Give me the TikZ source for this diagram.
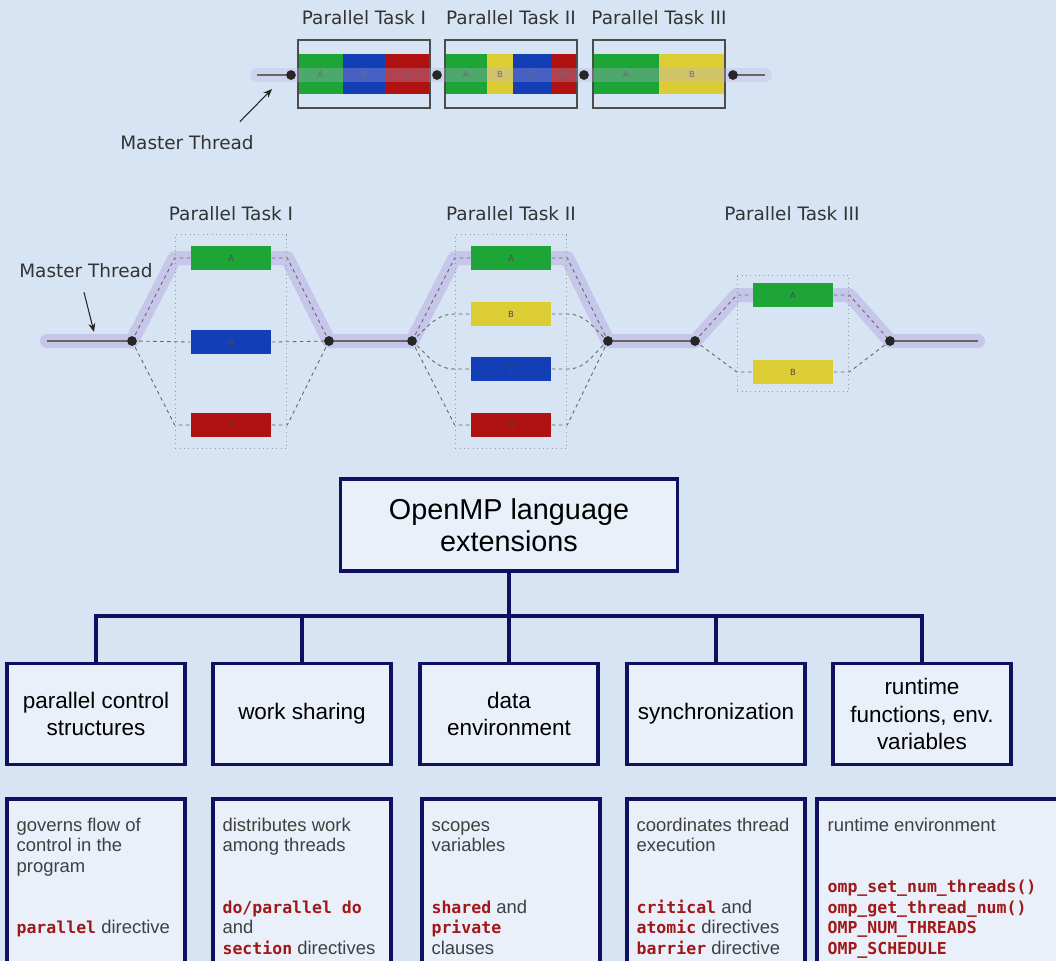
\documentclass[tikz,border=0pt]{standalone}
\usepackage{fontspec}
\setmainfont{Liberation Sans}
\setmonofont{DejaVu Sans Mono}
\newfontfamily\dejavu{DejaVu Sans}
\usepackage{xcolor}
\usepackage{tikz}
\usetikzlibrary{arrows.meta, positioning, fit, calc}
\definecolor{bgblue}{RGB}{214,228,244}
\definecolor{boxfill}{RGB}{233,240,250}
\definecolor{navyline}{RGB}{16,16,96}
\definecolor{taskgreen}{RGB}{30,165,55}
\definecolor{taskblue}{RGB}{20,62,182}
\definecolor{taskred}{RGB}{176,18,18}
\definecolor{taskyellow}{RGB}{220,205,52}
\definecolor{bandline}{RGB}{188,178,228}
\definecolor{descgray}{RGB}{64,64,64}
\definecolor{kwred}{RGB}{160,24,24}
\newcommand{\kw}[1]{\textcolor{kwred}{\fontsize{9.4}{11.7}\selectfont\ttfamily\bfseries #1}}
\pgfdeclarelayer{paper}
\pgfdeclarelayer{bandlayer}
\pgfsetlayers{paper,bandlayer,main}

\begin{document}
\begin{tikzpicture}[
  x=0.02cm, y=-0.02cm,
  tasklabel/.style={font=\dejavu\fontsize{10.5}{12}\selectfont, text=black!80},
  seg/.style={draw=none, minimum height=0.8cm, inner sep=0pt, outer sep=0pt,
              anchor=west, font=\dejavu\fontsize{4.8}{5}\selectfont,
              text=black!70},
  segframe/.style={draw=black!70, line width=0.6pt, inner xsep=0pt,
                   inner ysep=0.28cm},
  bar/.style={minimum width=1.62cm, minimum height=0.48cm, inner sep=0pt,
              font=\dejavu\fontsize{4.8}{5}\selectfont, text=black!70},
  fork/.style={circle, fill=black!85, inner sep=0pt, minimum size=0.19cm},
  band/.style={line width=0.28cm, draw=bandline, opacity=0.6,
               line cap=round, line join=round},
  core/.style={draw=black!60, line width=0.7pt},
  branch/.style={draw=black!60, dash pattern=on 2pt off 2pt, line width=0.5pt},
  groupbox/.style={draw=black!40, dotted, line width=0.5pt,
                   inner xsep=0.3cm, inner ysep=0.22cm},
  pointer/.style={-{Stealth[length=5pt, width=4pt]}, line width=0.6pt,
                  draw=black!85},
  rootbox/.style={draw=navyline, fill=boxfill, line width=2pt,
                  minimum width=6.74cm, minimum height=1.84cm, align=center,
                  font=\fontsize{16.4}{18.3}\selectfont},
  catbox/.style={draw=navyline, fill=boxfill, line width=2pt,
                 minimum width=3.56cm, minimum height=2.02cm, align=center,
                 inner sep=2pt, font=\fontsize{12.8}{15.4}\selectfont},
  descbox/.style={draw=navyline, fill=boxfill, line width=2pt,
                  minimum width=3.56cm, minimum height=3.6cm},
  desctext/.style={anchor=north west, inner sep=0pt, align=left,
                   text=descgray, font=\fontsize{10.5}{11.7}\selectfont},
  tree/.style={draw=navyline, line width=2pt},
]
\useasboundingbox (0,0) rectangle (1056,961);
\begin{pgfonlayer}{paper}
  \fill[bgblue] (0,0) rectangle (1056,961);
\end{pgfonlayer}
\clip (0,0) rectangle (1056,961);

% =================================================================
%  TOP STRIP -- SERIAL VIEW
% =================================================================
\node[tasklabel] (ttl1) at (364,18) {Parallel Task I};
\node[tasklabel] (ttl2) at (511,18) {Parallel Task II};
\node[tasklabel] (ttl3) at (659,18) {Parallel Task III};

\node[seg, fill=taskgreen, minimum width=0.90cm] (t1a) at (298,74) {A};
\node[seg, fill=taskblue, minimum width=0.84cm, right=0pt of t1a] (t1b) {B};
\node[seg, fill=taskred, minimum width=0.90cm, right=0pt of t1b] (t1c) {C};

\node[seg, fill=taskgreen, minimum width=0.84cm] (t2a) at (445,74) {A};
\node[seg, fill=taskyellow, minimum width=0.52cm, right=0pt of t2a] (t2b) {B};
\node[seg, fill=taskblue, minimum width=0.78cm, right=0pt of t2b] (t2c) {C};
\node[seg, fill=taskred, minimum width=0.50cm, right=0pt of t2c] (t2d) {D};

\node[seg, fill=taskgreen, minimum width=1.32cm] (t3a) at (593,74) {A};
\node[seg, fill=taskyellow, minimum width=1.32cm, right=0pt of t3a] (t3b) {B};

\node[segframe, fit=(t1a)(t1c)] (frame1) {};
\node[segframe, fit=(t2a)(t2d)] (frame2) {};
\node[segframe, fit=(t3a)(t3b)] (frame3) {};

\coordinate (tstart) at (257,75);
\coordinate (tend) at (765,75);
\node[fork] (s0) at (291,75) {};
\node[fork] (s1) at (437,75) {};
\node[fork] (s2) at (584,75) {};
\node[fork] (s3) at (733,75) {};
\draw[band, opacity=0.3] (tstart) -- (tend);
\draw[core] (tstart) -- (s0.center);
\draw[core] (s3.center) -- (tend);
\foreach \d in {s0,s1,s2,s3} \node[fork] at (\d) {};

\node[tasklabel] (mtop) at (187,143) {Master Thread};
\coordinate (mtip) at (272,89);
\draw[pointer] ($(mtop.north east)+(-20,-8)$) -- (mtip);

% =================================================================
%  MIDDLE -- FORK / JOIN VIEW
% =================================================================
\node[tasklabel] (mttl1) at (231,214) {Parallel Task I};
\node[tasklabel] (mttl2) at (511,214) {Parallel Task II};
\node[tasklabel] (mttl3) at (792,214) {Parallel Task III};

\node[bar, fill=taskgreen] (m1a) at (231,258) {A};
\node[bar, fill=taskblue] (m1b) at (231,342) {B};
\node[bar, fill=taskred] (m1c) at (231,425) {C};

\node[bar, fill=taskgreen] (m2a) at (511,258) {A};
\node[bar, fill=taskyellow] (m2b) at (511,314) {B};
\node[bar, fill=taskblue] (m2c) at (511,369) {C};
\node[bar, fill=taskred] (m2d) at (511,425) {D};

\node[bar, fill=taskgreen] (m3a) at (793,295) {A};
\node[bar, fill=taskyellow] (m3b) at (793,372) {B};

\node[groupbox, fit=(m1a)(m1c)] (g1) {};
\node[groupbox, fit=(m2a)(m2d)] (g2) {};
\node[groupbox, inner ysep=0.14cm, fit=(m3a)(m3b)] (g3) {};

\node[fork] (f1) at (132,341) {};
\node[fork] (j1) at (329,341) {};
\node[fork] (f2) at (412,341) {};
\node[fork] (j2) at (608,341) {};
\node[fork] (f3) at (695,341) {};
\node[fork] (j3) at (890,341) {};
\coordinate (mstart) at (47,341);
\coordinate (mend) at (978,341);

\begin{pgfonlayer}{bandlayer}
\draw[band] (mstart) -- (f1.center) -- (g1.west |- m1a) -- (g1.east |- m1a)
  -- (j1.center) -- (f2.center) -- (g2.west |- m2a) -- (g2.east |- m2a)
  -- (j2.center) -- (f3.center) -- (g3.west |- m3a) -- (g3.east |- m3a)
  -- (j3.center) -- (mend);
\end{pgfonlayer}

\draw[core] (mstart) -- (f1.center);
\draw[core] (j1.center) -- (f2.center);
\draw[core] (j2.center) -- (f3.center);
\draw[core] (j3.center) -- (mend);

% task I branches
\draw[branch] (f1.center) -- (g1.west |- m1a) -- (m1a.west);
\draw[branch] (f1.center) -- (m1b.west);
\draw[branch] (f1.center) -- (g1.west |- m1c) -- (m1c.west);
\draw[branch] (m1a.east) -- (g1.east |- m1a) -- (j1.center);
\draw[branch] (m1b.east) -- (j1.center);
\draw[branch] (m1c.east) -- (g1.east |- m1c) -- (j1.center);

% task II branches
\draw[branch] (f2.center) -- (g2.west |- m2a) -- (m2a.west);
\draw[branch] (f2.center) to[out=40, in=180] (g2.west |- m2b) -- (m2b.west);
\draw[branch] (f2.center) to[out=-40, in=180] (g2.west |- m2c) -- (m2c.west);
\draw[branch] (f2.center) -- (g2.west |- m2d) -- (m2d.west);
\draw[branch] (m2a.east) -- (g2.east |- m2a) -- (j2.center);
\draw[branch] (m2b.east) -- (g2.east |- m2b) to[out=0, in=140] (j2.center);
\draw[branch] (m2c.east) -- (g2.east |- m2c) to[out=0, in=-140] (j2.center);
\draw[branch] (m2d.east) -- (g2.east |- m2d) -- (j2.center);

% task III branches
\draw[branch] (f3.center) -- (g3.west |- m3a) -- (m3a.west);
\draw[branch] (f3.center) -- (g3.west |- m3b) -- (m3b.west);
\draw[branch] (m3a.east) -- (g3.east |- m3a) -- (j3.center);
\draw[branch] (m3b.east) -- (g3.east |- m3b) -- (j3.center);

\foreach \d in {f1,j1,f2,j2,f3,j3} \node[fork] at (\d) {};

\node[tasklabel] (mmid) at (86,271) {Master Thread};
\coordinate (mmtip) at (94,332);
\draw[pointer] ($(mmid.south)+(-2,8)$) -- (mmtip);

% =================================================================
%  BOTTOM -- LANGUAGE EXTENSIONS TREE
% =================================================================
\node[rootbox] (root) at (509,525) {OpenMP language\\extensions};

\node[catbox] (cat1) at (96,714) {parallel control\\structures};
\node[catbox] (cat2) at (302,714) {work sharing};
\node[catbox] (cat3) at (509,714) {data\\environment};
\node[catbox] (cat4) at (716,714) {synchronization};
\node[catbox] (cat5) at (922,714) {runtime\\functions, env.\\variables};

\coordinate (bus) at (509,616);
\draw[tree] (root.south) -- (bus);
\foreach \i in {1,...,5} \draw[tree] (bus) -| (cat\i.north);

\node[descbox] (desc1) at (96,889) {};
\node[descbox] (desc2) at (302,889) {};
\node[descbox] (desc3) at (511,889) {};
\node[descbox] (desc4) at (716,889) {};
\node[descbox, minimum width=5.16cm] (desc5) at (946,889) {};

\node[desctext] (txt1) at ([shift={(11,19)}]desc1.north west)
  {\strut governs flow of\\control in the\\program\\~\\~\\\kw{parallel} directive};
\node[desctext] (txt2) at ([shift={(11,19)}]desc2.north west)
  {\strut distributes work\\among threads\\~\\~\\\kw{do/parallel do}\\and\\
   \kw{section} directives};
\node[desctext] (txt3) at ([shift={(11,19)}]desc3.north west)
  {\strut scopes\\variables\\~\\~\\\kw{shared} and\\\kw{private}\\clauses};
\node[desctext] (txt4) at ([shift={(11,19)}]desc4.north west)
  {\strut coordinates thread\\execution\\~\\~\\\kw{critical} and\\
   \kw{atomic} directives\\\kw{barrier} directive};
\node[desctext] (txt5) at ([shift={(12,19)}]desc5.north west)
  {\strut runtime environment\\~\\~\\\kw{omp\_set\_num\_threads()}\\
   \kw{omp\_get\_thread\_num()}\\\kw{OMP\_NUM\_THREADS}\\\kw{OMP\_SCHEDULE}};

\end{tikzpicture}
\end{document}
